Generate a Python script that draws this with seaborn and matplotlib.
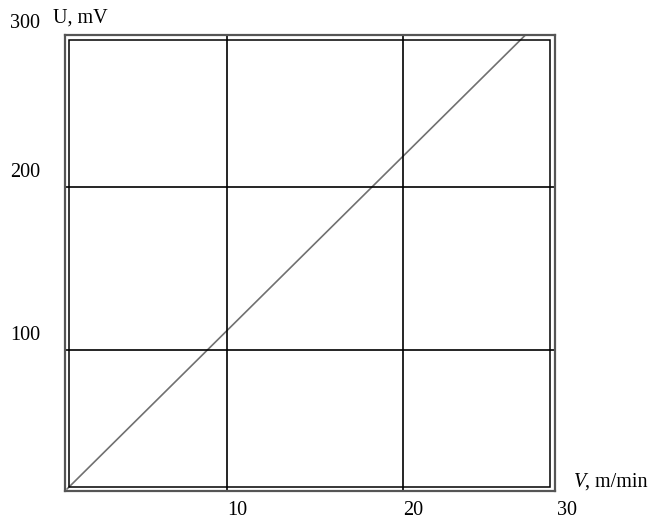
import matplotlib
matplotlib.use("Agg")
import matplotlib.pyplot as plt
import seaborn as sns
import pandas as pd
from matplotlib.patches import Rectangle

# Data (in the chart's gridline scale)
V_line = [0.88, 27.0]
U_line = [14.7, 293.2]
x_grid = [10, 20]
y_grid = [100, 200]
x_tick_labels = ["10", "20", "30"]
x_tick_pos = [10.6, 20.6, 29.4]
y_tick_labels = ["300", "200", "100"]
y_tick_pos = [300.6, 208.6, 109.2]

sns.set_style("white")
plt.rcParams["font.family"] = ["Liberation Serif", "DejaVu Serif"]
plt.rcParams["text.color"] = "black"

fig = plt.figure(figsize=(6.51, 5.20), dpi=100)
ax = fig.add_axes([64.5 / 651, (520 - 491) / 520, 490 / 651, 456 / 520])

df = pd.DataFrame({"V": V_line, "U": U_line})
sns.lineplot(data=df, x="V", y="U", color="#707070", linewidth=1.2, ax=ax)

for xv in x_grid:
    ax.axvline(xv, color="black", linewidth=1.2)
for yv in y_grid:
    ax.axhline(yv, color="black", linewidth=1.2)

ax.set_xlim(0.74, 28.66)
ax.set_ylim(13.5, 293.25)
ax.set_xticks([])
ax.set_yticks([])
ax.set_xlabel("")
ax.set_ylabel("")

for s in ax.spines.values():
    s.set_color("#555555")
    s.set_linewidth(1.6)

dx = 4.5 / 490
dy = 4.5 / 456
ax.add_patch(Rectangle((dx, dy), 1 - 2 * dx, 1 - 2 * dy, transform=ax.transAxes,
                       fill=False, edgecolor="black", linewidth=1.1, zorder=5))

fs = 14.5
for lab, xp in zip(x_tick_labels, x_tick_pos):
    ax.text(xp, 1.8, lab, ha="center", va="center", fontsize=fs, color="black", clip_on=False)
for lab, yp in zip(y_tick_labels, y_tick_pos):
    ax.text(-1.5, yp, lab, ha="center", va="center", fontsize=fs, color="black", clip_on=False)

ax.text(0.1, 303.7, "U, mV", ha="left", va="center", fontsize=fs, color="black", clip_on=False)
ax.text(29.77, 19.0, "V", ha="left", va="center", fontsize=fs, style="italic", color="black", clip_on=False)
ax.text(30.42, 19.0, ", m/min", ha="left", va="center", fontsize=fs, color="black", clip_on=False)

fig.savefig("out.png", dpi=100)
